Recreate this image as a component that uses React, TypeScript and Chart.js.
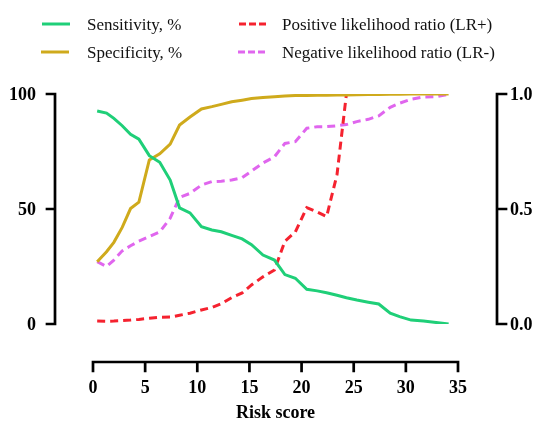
import React, { useEffect, useRef } from "react";
import { Chart, registerables } from "chart.js";

Chart.register(...registerables);

const scores = [0.4, 1.3, 2.0, 2.8, 3.6, 4.4, 5.4, 6.4, 7.4, 8.3, 9.3, 10.4, 11.4, 12.3, 13.3, 14.3, 15.2, 16.3, 17.4, 18.4, 19.4, 20.5, 21.5, 22.4, 23.4, 24.3, 25.3, 26.4, 27.4, 28.5, 29.4, 30.5, 31.7, 32.9, 34.1];
const sensitivity = [92.6, 91.7, 89.4, 86.2, 82.5, 80.4, 73.2, 70.3, 62.6, 50.5, 48.3, 42.3, 40.9, 40.1, 38.5, 37.0, 34.5, 30.0, 27.8, 21.5, 19.9, 15.1, 14.4, 13.6, 12.5, 11.4, 10.4, 9.5, 8.7, 4.7, 3.2, 1.7, 1.3, 0.7, 0.0];
const specificity = [27.1, 31.4, 35.5, 42.0, 50.2, 53.0, 71.3, 74.0, 78.2, 86.5, 90.0, 93.5, 94.5, 95.5, 96.6, 97.3, 98.0, 98.5, 98.8, 99.1, 99.3, 99.4, 99.5, 99.5, 99.6, 99.6, 99.7, 99.8, 99.8, 99.9, 99.9, 100, 100, 100, 100];
const lrPositive = [0.013, 0.012, 0.013, 0.015, 0.017, 0.02, 0.025, 0.029, 0.03, 0.038, 0.047, 0.061, 0.072, 0.088, 0.115, 0.135, 0.17, 0.205, 0.235, 0.36, 0.4, 0.506, 0.487, 0.467, 0.65, 1.0, null, null, null, null, null, null, null, null, null];
const lrNegative = [0.271, 0.25, 0.278, 0.318, 0.34, 0.36, 0.38, 0.4, 0.46, 0.55, 0.568, 0.604, 0.619, 0.621, 0.626, 0.636, 0.665, 0.7, 0.727, 0.785, 0.793, 0.851, 0.858, 0.858, 0.862, 0.867, 0.88, 0.89, 0.905, 0.942, 0.96, 0.977, 0.987, 0.988, 0.999];

const xTicks = [0, 5, 10, 15, 20, 25, 30, 35];
const yLeftTicks = [0, 50, 100];
const yRightTicks = [0, 0.5, 1.0];
const yRightLabels = ["0.0", "0.5", "1.0"];

const seriesNames = ["Sensitivity, %", "Specificity, %", "Positive likelihood ratio (LR+)", "Negative likelihood ratio (LR-)"];
const seriesColors = ["#1fcf78", "#cfaa1c", "#f5222f", "#e066ee"];

const toPoints = (vals: (number | null)[]) => scores.map((x, i) => ({ x, y: vals[i] }));

const axesPlugin = {
  id: "customAxes",
  afterDraw(chart: any) {
    const ctx = chart.ctx;
    const xs = chart.scales.x;
    const yl = chart.scales.y;
    const yr = chart.scales.y1;
    const area = chart.chartArea;
    ctx.save();
    ctx.strokeStyle = "#000";
    ctx.fillStyle = "#000";
    ctx.lineWidth = 2.7;
    ctx.lineCap = "square";

    // left axis
    const lx = area.left - 38;
    ctx.beginPath();
    ctx.moveTo(lx, yl.getPixelForValue(0));
    ctx.lineTo(lx, yl.getPixelForValue(100));
    yLeftTicks.forEach((v) => {
      const p = yl.getPixelForValue(v);
      ctx.moveTo(lx, p);
      ctx.lineTo(lx - 8, p);
    });
    ctx.stroke();
    ctx.font = "bold 18px 'Liberation Serif', serif";
    ctx.textAlign = "right";
    ctx.textBaseline = "middle";
    yLeftTicks.forEach((v) => {
      ctx.fillText(String(v), lx - 19, yl.getPixelForValue(v) + 1);
    });

    // right axis
    const rx = area.right + 39;
    ctx.beginPath();
    ctx.moveTo(rx, yr.getPixelForValue(0));
    ctx.lineTo(rx, yr.getPixelForValue(1));
    yRightTicks.forEach((v) => {
      const p = yr.getPixelForValue(v);
      ctx.moveTo(rx, p);
      ctx.lineTo(rx + 9, p);
    });
    ctx.stroke();
    ctx.textAlign = "left";
    yRightTicks.forEach((v, i) => {
      ctx.fillText(yRightLabels[i], rx + 13, yr.getPixelForValue(v) + 1);
    });

    // x axis
    const by = area.bottom + 38;
    ctx.beginPath();
    ctx.moveTo(xs.getPixelForValue(0), by);
    ctx.lineTo(xs.getPixelForValue(35), by);
    xTicks.forEach((v) => {
      const p = xs.getPixelForValue(v);
      ctx.moveTo(p, by);
      ctx.lineTo(p, by + 9);
    });
    ctx.stroke();
    ctx.textAlign = "center";
    xTicks.forEach((v) => {
      ctx.fillText(String(v), xs.getPixelForValue(v), by + 26);
    });
    ctx.fillText("Risk score", (area.left + area.right) / 2, by + 51);

    // legend
    const legendPos = [
      [42, 24, 87],
      [41, 52, 87],
      [239, 24, 282],
      [238, 52, 282],
    ];
    ctx.font = "17px 'Liberation Serif', serif";
    ctx.textAlign = "left";
    seriesNames.forEach((name, i) => {
      const [x0, y0, tx] = legendPos[i];
      ctx.beginPath();
      ctx.strokeStyle = seriesColors[i];
      ctx.lineWidth = 3;
      ctx.lineCap = "butt";
      ctx.setLineDash(i >= 2 ? [7, 3] : []);
      ctx.moveTo(x0, y0);
      ctx.lineTo(x0 + 28, y0);
      ctx.stroke();
      ctx.setLineDash([]);
      ctx.fillStyle = "#111";
      ctx.fillText(name, tx, y0 + 2);
    });
    ctx.restore();
  },
};

export default function App() {
  const ref = useRef<HTMLCanvasElement>(null);
  useEffect(() => {
    document.body.style.margin = "0";
    const chart = new Chart(ref.current as HTMLCanvasElement, {
      type: "line",
      data: {
        datasets: [
          { label: seriesNames[0], data: toPoints(sensitivity), borderColor: seriesColors[0], yAxisID: "y" },
          { label: seriesNames[1], data: toPoints(specificity), borderColor: seriesColors[1], yAxisID: "y" },
          { label: seriesNames[2], data: toPoints(lrPositive), borderColor: seriesColors[2], yAxisID: "y1", borderDash: [8, 5] },
          { label: seriesNames[3], data: toPoints(lrNegative), borderColor: seriesColors[3], yAxisID: "y1", borderDash: [8, 5] },
        ] as any,
      },
      options: {
        responsive: false,
        animation: false,
        layout: { padding: { left: 93, right: 81, top: 94, bottom: 101 } },
        elements: {
          line: { borderWidth: 3, tension: 0, fill: false },
          point: { radius: 0 },
        },
        plugins: { legend: { display: false }, tooltip: { enabled: false } },
        scales: {
          x: { type: "linear", min: 0, max: 35, display: false },
          y: { min: 0, max: 100, display: false },
          y1: { min: 0, max: 1, display: false, position: "right" },
        },
      },
      plugins: [axesPlugin],
    });
    return () => chart.destroy();
  }, []);
  return (
    <div style={{ width: 539, height: 425, background: "#fff" }}>
      <canvas ref={ref} width={539} height={425} />
    </div>
  );
}
